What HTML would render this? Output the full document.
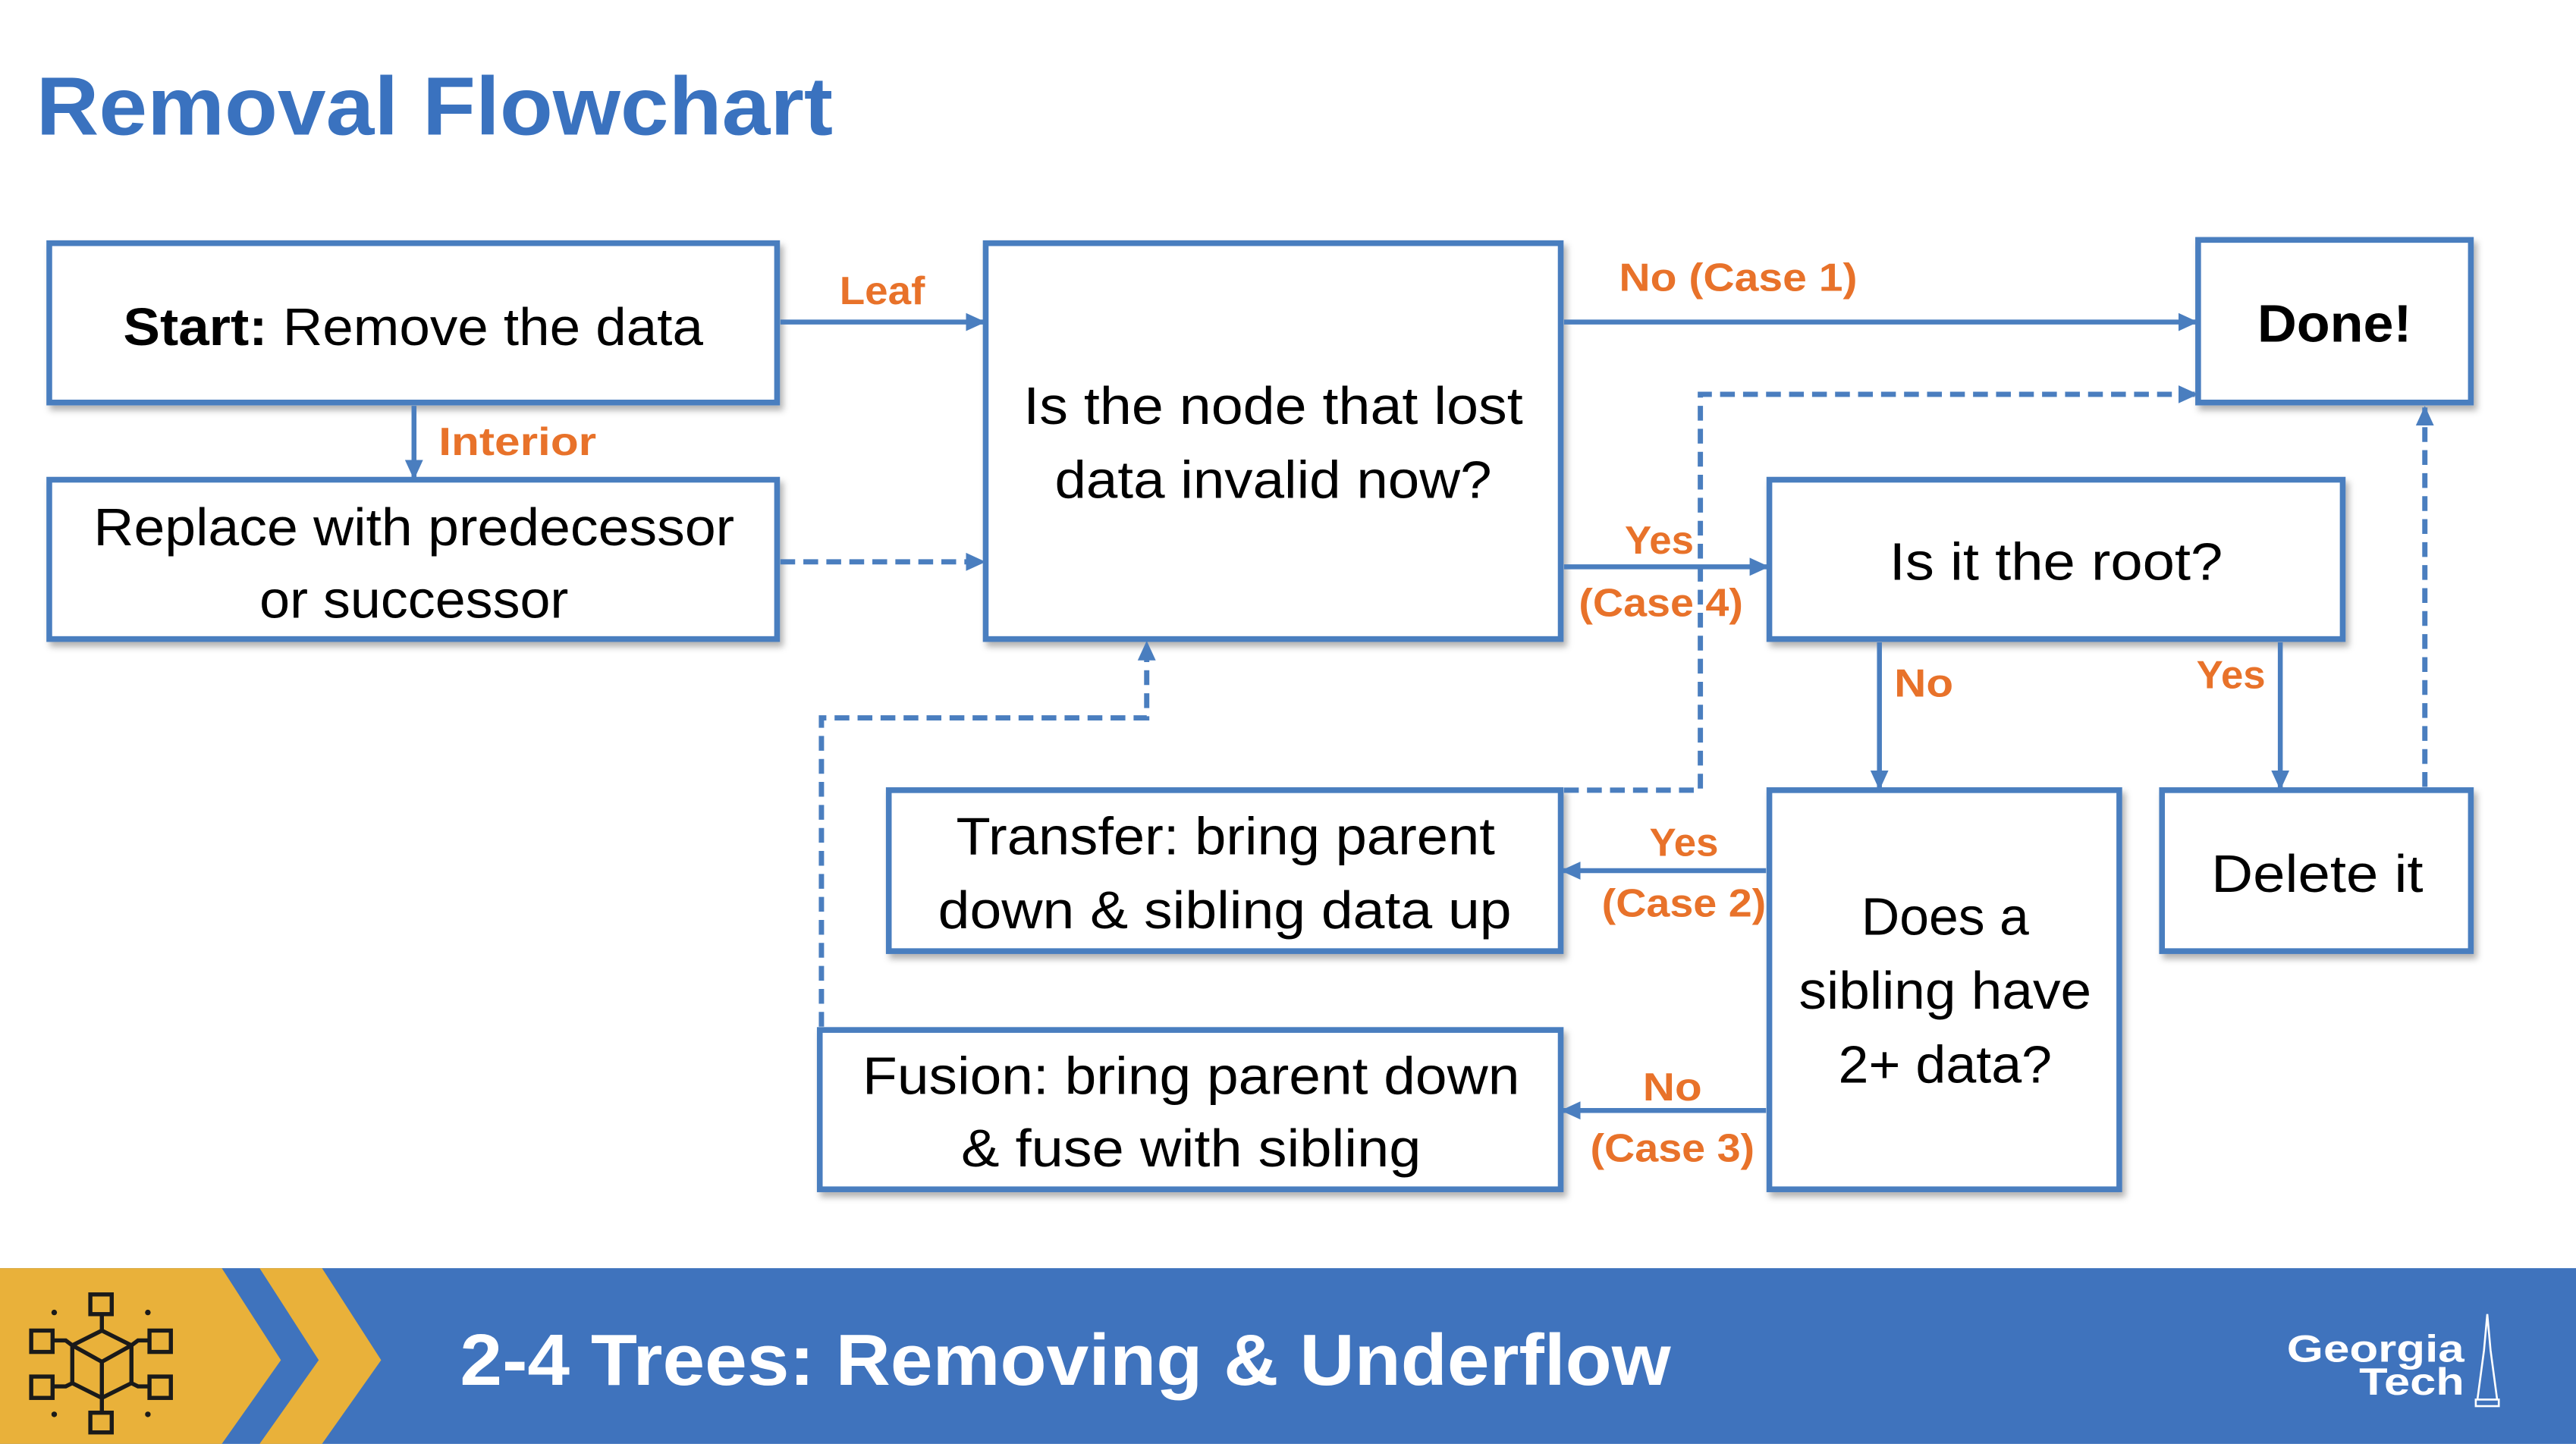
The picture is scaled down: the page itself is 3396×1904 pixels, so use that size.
<!DOCTYPE html>
<html><head><meta charset="utf-8"><style>
html,body{margin:0;padding:0;background:#fff;}
svg{display:block;}
</style></head><body>
<svg width="3396" height="1904" viewBox="0 0 1568 879" xmlns="http://www.w3.org/2000/svg" font-family="Liberation Sans, sans-serif">
<defs>
<marker id="ah" markerWidth="12" markerHeight="12" refX="11" refY="6" orient="auto" markerUnits="userSpaceOnUse">
<path d="M0,0.5 L12,6 L0,11.5 z" fill="#4a7ebf"/>
</marker>
<filter id="sh" x="-5%" y="-5%" width="112%" height="120%">
<feDropShadow dx="2" dy="3" stdDeviation="2" flood-color="#000" flood-opacity="0.3"/>
</filter>
</defs>
<rect width="1568" height="879" fill="#fff"/>
<text x="22" y="82" font-size="50" font-weight="bold" fill="#3a72bf" textLength="485" lengthAdjust="spacingAndGlyphs">Removal Flowchart</text>

<g fill="#fff" stroke="#4a7ebf" stroke-width="3.5" filter="url(#sh)">
<rect x="30" y="148" width="443" height="97"/>
<rect x="30" y="292" width="443" height="97"/>
<rect x="600" y="148" width="350" height="241"/>
<rect x="1338" y="146" width="166" height="99"/>
<rect x="1077" y="292" width="349" height="97"/>
<rect x="541" y="481" width="409" height="98"/>
<rect x="1077" y="481" width="213" height="243"/>
<rect x="1316" y="481" width="188" height="98"/>
<rect x="499" y="627" width="451" height="97"/>
</g>

<g font-size="32" fill="#000">
<text x="75" y="210" textLength="353" lengthAdjust="spacingAndGlyphs"><tspan font-weight="bold">Start:</tspan> Remove the data</text>
<text x="57" y="332" textLength="390" lengthAdjust="spacingAndGlyphs">Replace with predecessor</text>
<text x="158" y="376" textLength="188" lengthAdjust="spacingAndGlyphs">or successor</text>
<text x="623" y="258" textLength="304" lengthAdjust="spacingAndGlyphs">Is the node that lost</text>
<text x="642" y="303" textLength="266" lengthAdjust="spacingAndGlyphs">data invalid now?</text>
<text x="1374" y="208" font-weight="bold" textLength="94" lengthAdjust="spacingAndGlyphs">Done!</text>
<text x="1150" y="353" textLength="203" lengthAdjust="spacingAndGlyphs">Is it the root?</text>
<text x="582" y="520" textLength="328" lengthAdjust="spacingAndGlyphs">Transfer: bring parent</text>
<text x="571" y="565" textLength="349" lengthAdjust="spacingAndGlyphs">down &amp; sibling data up</text>
<text x="1133" y="569" textLength="102" lengthAdjust="spacingAndGlyphs">Does a</text>
<text x="1095" y="614" textLength="178" lengthAdjust="spacingAndGlyphs">sibling have</text>
<text x="1119" y="659" textLength="130" lengthAdjust="spacingAndGlyphs">2+ data?</text>
<text x="1346" y="543" textLength="129" lengthAdjust="spacingAndGlyphs">Delete it</text>
<text x="525" y="666" textLength="400" lengthAdjust="spacingAndGlyphs">Fusion: bring parent down</text>
<text x="585" y="710" textLength="280" lengthAdjust="spacingAndGlyphs">&amp; fuse with sibling</text>
</g>

<g stroke="#4a7ebf" stroke-width="3" fill="none">
<line x1="475" y1="196" x2="599" y2="196" marker-end="url(#ah)"/>
<line x1="252" y1="247" x2="252" y2="291" marker-end="url(#ah)"/>
<line x1="952" y1="196" x2="1337" y2="196" marker-end="url(#ah)"/>
<line x1="952" y1="345" x2="1076" y2="345" marker-end="url(#ah)"/>
<line x1="1144" y1="391" x2="1144" y2="480" marker-end="url(#ah)"/>
<line x1="1388" y1="391" x2="1388" y2="480" marker-end="url(#ah)"/>
<line x1="1075" y1="530" x2="951" y2="530" marker-end="url(#ah)"/>
<line x1="1075" y1="676" x2="951" y2="676" marker-end="url(#ah)"/>
<g stroke-dasharray="9,5" stroke-width="3.2">
<line x1="475" y1="342" x2="599" y2="342" marker-end="url(#ah)"/>
<polyline points="952,481 1035,481 1035,240 1337,240" marker-end="url(#ah)"/>
<polyline points="1476,479 1476,248" marker-end="url(#ah)"/>
<polyline points="500,625 500,437 698,437 698,391" marker-end="url(#ah)"/>
</g>
</g>

<g font-size="24" font-weight="bold" fill="#e8722a" text-anchor="middle">
<text x="537" y="185" textLength="52" lengthAdjust="spacingAndGlyphs">Leaf</text>
<text x="315" y="277" textLength="96" lengthAdjust="spacingAndGlyphs">Interior</text>
<text x="1058" y="177" textLength="145" lengthAdjust="spacingAndGlyphs">No (Case 1)</text>
<text x="1010" y="337" textLength="42" lengthAdjust="spacingAndGlyphs">Yes</text>
<text x="1011" y="375" textLength="100" lengthAdjust="spacingAndGlyphs">(Case 4)</text>
<text x="1171" y="424" textLength="36" lengthAdjust="spacingAndGlyphs">No</text>
<text x="1358" y="419" textLength="42" lengthAdjust="spacingAndGlyphs">Yes</text>
<text x="1025" y="521" textLength="42" lengthAdjust="spacingAndGlyphs">Yes</text>
<text x="1025" y="558" textLength="100" lengthAdjust="spacingAndGlyphs">(Case 2)</text>
<text x="1018" y="670" textLength="36" lengthAdjust="spacingAndGlyphs">No</text>
<text x="1018" y="707" textLength="100" lengthAdjust="spacingAndGlyphs">(Case 3)</text>
</g>

<!-- footer -->
<rect x="0" y="772" width="1568" height="107" fill="#3f73bd"/>
<polygon points="0,772 135,772 171,828 135,879 0,879" fill="#e9b13a"/>
<polygon points="158,772 196,772 232,828 196,879 158,879 194,828" fill="#e9b13a"/>
<g stroke="#1a1a1a" stroke-width="2.5" fill="none">
<rect x="55" y="788" width="13" height="12"/>
<rect x="55" y="860" width="13" height="12"/>
<rect x="19" y="810" width="13" height="13"/>
<rect x="19" y="838" width="13" height="13"/>
<rect x="91" y="810" width="13" height="13"/>
<rect x="91" y="838" width="13" height="13"/>
<polygon points="62,810 80,819 80,842 62,851 44,842 44,819"/>
<polyline points="44,819 62,829 80,819"/>
<line x1="62" y1="829" x2="62" y2="851"/>
<line x1="62" y1="800" x2="62" y2="810"/>
<line x1="62" y1="851" x2="62" y2="860"/>
<polyline points="32,816 40,816 44,819"/>
<polyline points="91,816 84,816 80,819"/>
<polyline points="32,844 40,844 44,842"/>
<polyline points="91,844 84,844 80,842"/>
</g>
<g fill="#1a1a1a"><circle cx="33" cy="799" r="1.7"/><circle cx="90" cy="799" r="1.7"/><circle cx="33" cy="861" r="1.7"/><circle cx="90" cy="861" r="1.7"/></g>
<text x="280" y="843" font-size="44" font-weight="bold" fill="#fff" textLength="737" lengthAdjust="spacingAndGlyphs">2-4 Trees: Removing &amp; Underflow</text>
<g font-size="23" font-weight="bold" fill="#fff" text-anchor="end">
<text x="1500" y="829" textLength="108" lengthAdjust="spacingAndGlyphs">Georgia</text>
<text x="1500" y="849" textLength="64" lengthAdjust="spacingAndGlyphs">Tech</text>
</g>
<g stroke="#fff" stroke-width="1.2" fill="none">
<polyline points="1508,852 1512,822 1514,800 1516,822 1520,852"/>
<rect x="1507" y="852" width="14" height="4"/>
</g>
</svg>
</body></html>
